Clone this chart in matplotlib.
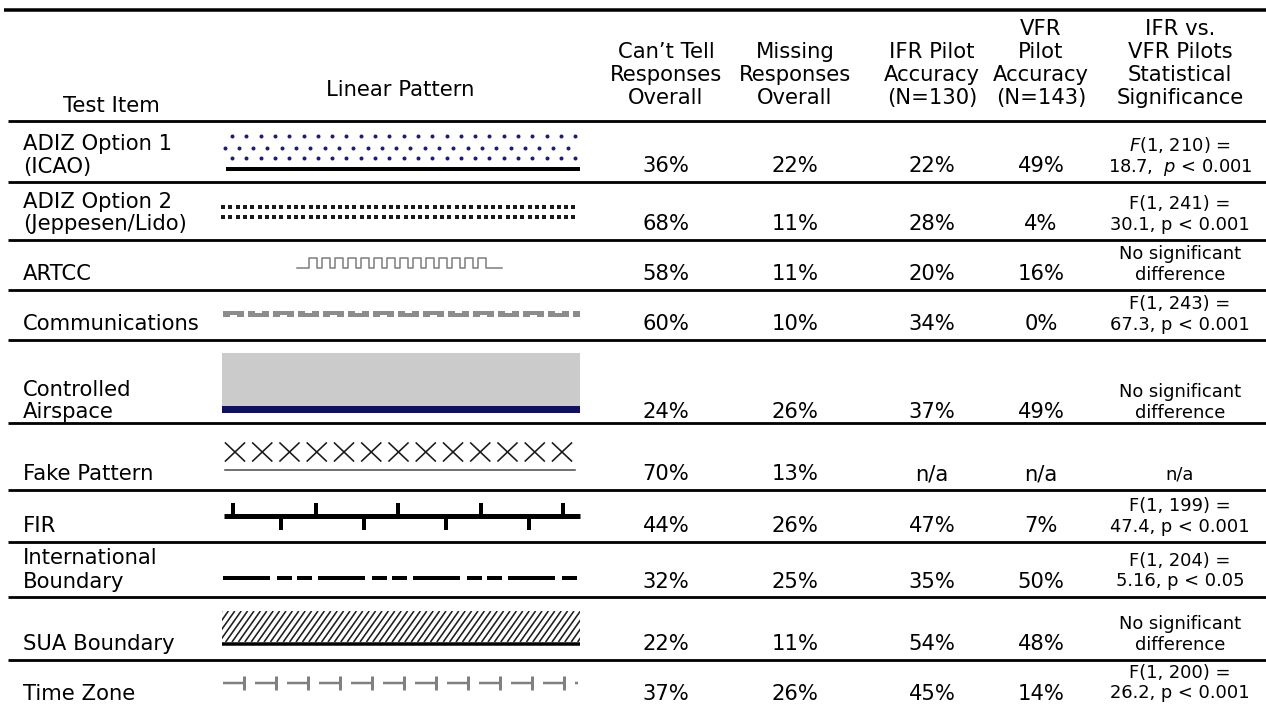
import numpy as np
import matplotlib.pyplot as plt
from matplotlib.patches import Rectangle
from matplotlib.collections import LineCollection

plt.rcParams['font.family'] = ['DejaVu Sans']
plt.rcParams['mathtext.fontset'] = 'dejavusans'

# table content
headers = ['Test Item', 'Linear Pattern', 'Can’t Tell\nResponses\nOverall',
           'Missing\nResponses\nOverall', 'IFR Pilot\nAccuracy\n(N=130)',
           'VFR\nPilot\nAccuracy\n(N=143)',
           'IFR vs.\nVFR Pilots\nStatistical\nSignificance']
test_items = ['ADIZ Option 1\n(ICAO)', 'ADIZ Option 2\n(Jeppesen/Lido)', 'ARTCC',
              'Communications', 'Controlled\nAirspace', 'Fake Pattern', 'FIR',
              'International\nBoundary', 'SUA Boundary', 'Time Zone']
cant_tell = ['36%', '68%', '58%', '60%', '24%', '70%', '44%', '32%', '22%', '37%']
missing = ['22%', '11%', '11%', '10%', '26%', '13%', '26%', '25%', '11%', '26%']
ifr_accuracy = ['22%', '28%', '20%', '34%', '37%', 'n/a', '47%', '35%', '54%', '45%']
vfr_accuracy = ['49%', '4%', '16%', '0%', '49%', 'n/a', '7%', '50%', '48%', '14%']
significance = ['$F$(1, 210) =\n18.7,  $p$ < 0.001', 'F(1, 241) =\n30.1, p < 0.001',
                'No significant\ndifference', 'F(1, 243) =\n67.3, p < 0.001',
                'No significant\ndifference', 'n/a', 'F(1, 199) =\n47.4, p < 0.001',
                'F(1, 204) =\n5.16, p < 0.05', 'No significant\ndifference',
                'F(1, 200) =\n26.2, p < 0.001']

W, H = 1266, 709
fig = plt.figure(figsize=(12.66, 7.09), dpi=100)
ax = fig.add_axes([0, 0, 1, 1])
ax.set_xlim(0, W)
ax.set_ylim(H, 0)
ax.axis('off')

PT = 0.72  # points per pixel at 100 dpi
row_edges = [121, 182, 240, 290, 340, 423, 490, 542, 597, 660, 709]
text_shift = [0, 0, 0, 0, 5, 0, 0, 0, 0, 0]
col_x = [111, 400, 666, 795, 932, 1041, 1180]
X0, X1 = 222, 580
BIG, SMALL = 15.2, 12.9


def stack_text(x, base, text, size, lh, ha='center'):
    for i, line in enumerate(reversed(text.split('\n'))):
        ax.text(x, base - i * lh, line, ha=ha, va='baseline', fontsize=size,
                color='black')


# rules
ax.plot([4, W], [10, 10], color='black', lw=3.5 * PT, solid_capstyle='butt')
for y in row_edges[:-1]:
    ax.plot([8, W], [y, y], color='black', lw=2.8 * PT, solid_capstyle='butt')

# header
stack_text(col_x[0], 112, headers[0], BIG, 23)
stack_text(col_x[1], 96, headers[1], BIG, 23)
for j in range(2, 7):
    stack_text(col_x[j], 104, headers[j], BIG, 23)

# body text
for i in range(len(test_items)):
    bottom = row_edges[i + 1] + text_shift[i]
    stack_text(23, bottom - 9.5, test_items[i], BIG, 23, ha='left')
    for j, col in enumerate([cant_tell, missing, ifr_accuracy, vfr_accuracy]):
        stack_text(col_x[j + 2], bottom - 9.5, col[i], BIG, 23)
    stack_text(col_x[6], bottom - 10.5, significance[i], SMALL, 20.5)


# ---- line patterns ----
def adiz_icao(top):
    for off, start in [(15, 232), (27, 224.5), (37, 232)]:
        xs = np.arange(start, X1 - 2, 14.3)
        ax.scatter(xs, np.full(len(xs), top + off), s=(4 * PT) ** 2,
                   color='#1c1c78', linewidths=0)
    ax.plot([226, X1], [top + 48, top + 48], color='black', lw=4 * PT,
            solid_capstyle='butt')


def adiz_jeppesen(top):
    xs = np.arange(X0 + 1, X1, 7.3)
    for off in (25, 35):
        ax.scatter(xs, np.full(len(xs), top + off), s=(3.6 * PT) ** 2,
                   marker='s', color='#1a1a1a', linewidths=0)


def artcc(top):
    hi, lo = top + 18, top + 28
    xs, ys = [297], [lo]
    x = 309
    for k in range(14):
        xs += [x, x, x + 8, x + 8]
        ys += [lo, hi, hi, lo]
        x += 13
    xs.append(502)
    ys.append(lo)
    ax.plot(xs, ys, color='#7a7a7a', lw=1.5 * PT)


def communications(top):
    yc = top + 24
    x = 223
    k = 0
    while x < X1:
        w = min(21, X1 - x)
        ax.add_patch(Rectangle((x, yc - 3), w, 6, color='#8c8c8c', lw=0))
        if w > 14:
            ny = yc - 3 if k % 2 else yc + 1
            ax.add_patch(Rectangle((x + 7, ny), 7, 2, color='white', lw=0))
        x += 25
        k += 1


def controlled(top):
    ax.add_patch(Rectangle((X0, top + 13), X1 - X0, 53, color='#cbcbcb', lw=0))
    ax.add_patch(Rectangle((X0, top + 66), X1 - X0, 7, color='#10105f', lw=0))


def fake(top):
    for k in range(13):
        xc = 235 + 27.25 * k
        ax.plot([xc - 9.5, xc + 9.5], [top + 20, top + 38], color='#1a1a1a',
                lw=1.6 * PT)
        ax.plot([xc - 9.5, xc + 9.5], [top + 38, top + 20], color='#1a1a1a',
                lw=1.6 * PT)
    ax.plot([225, 575], [top + 47, top + 47], color='#444444', lw=1.5 * PT)


def fir(top):
    yl = top + 26
    ax.plot([224, X1], [yl, yl], color='black', lw=5 * PT, solid_capstyle='butt')
    for k in range(5):
        xt = 233 + 82.5 * k
        ax.plot([xt, xt], [yl, top + 13], color='black', lw=4 * PT,
                solid_capstyle='butt')
    for k in range(4):
        xt = 281 + 82.5 * k
        ax.plot([xt, xt], [yl, top + 40], color='black', lw=4 * PT,
                solid_capstyle='butt')


def international(top):
    y = top + 36
    segs = []
    x = 223
    while x < X1:
        for start, length in [(0, 47), (54, 15), (74, 15)]:
            a, b = x + start, min(x + start + length, X1)
            if a < X1:
                segs.append([(a, y), (b, y)])
        x += 95
    ax.add_collection(LineCollection(segs, colors='black', linewidths=4 * PT,
                                     capstyle='butt'))


def sua(top):
    ytop, ybot = top + 14, top + 45
    clip = Rectangle((X0, ytop), X1 - X0, ybot - ytop, fill=False, lw=0)
    ax.add_patch(clip)
    dx = 22
    segs = [[(x, ybot), (x + dx, ytop)] for x in np.arange(X0 - dx, X1, 6.4)]
    lc = LineCollection(segs, colors='#1e1e1e', linewidths=1.6 * PT)
    ax.add_collection(lc)
    lc.set_clip_path(clip)
    ax.plot([X0, X1], [top + 47, top + 47], color='black', lw=3.5 * PT,
            solid_capstyle='butt')


def time_zone(top):
    y = top + 23
    x = 223
    while x < X1:
        ax.plot([x, min(x + 21, X1 - 2)], [y, y], color='#808080', lw=2.5 * PT,
                solid_capstyle='butt')
        if x + 21 < X1:
            ax.plot([x + 21, x + 21], [top + 16, top + 30], color='#808080',
                    lw=3 * PT, solid_capstyle='butt')
        x += 32


patterns = [adiz_icao, adiz_jeppesen, artcc, communications, controlled, fake,
            fir, international, sua, time_zone]
for i, draw in enumerate(patterns):
    draw(row_edges[i])

fig.savefig('out.png', dpi=100)
